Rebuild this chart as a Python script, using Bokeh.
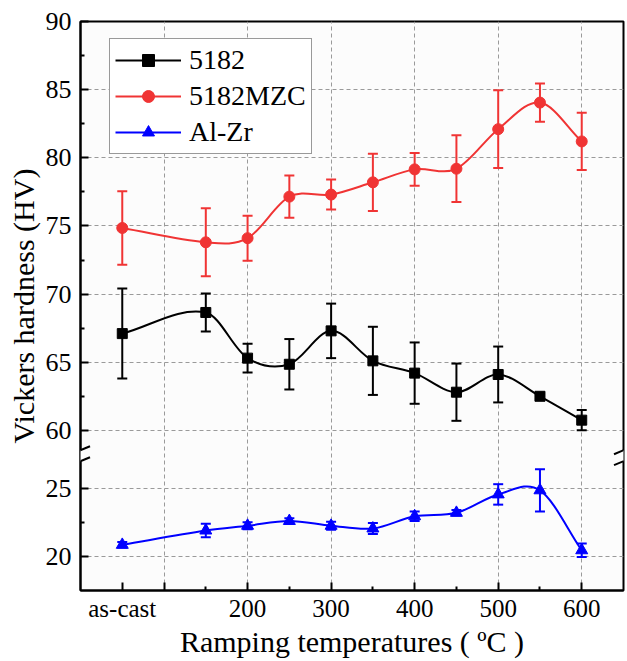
import numpy as np
from bokeh.plotting import figure
from bokeh.models import (FixedTicker, Whisker, TeeHead, ColumnDataSource,
                          Legend, LegendItem, Arrow)
from bokeh.embed import file_html
from bokeh.resources import INLINE

# ---------------- data ----------------
# temperature positions on the x axis (50 is where the "as-cast" state is placed)
temperatures = [50, 150, 200, 250, 300, 350, 400, 450, 500, 550, 600]
x_tick_labels = {50: "as-cast", 100: "", 200: "200", 300: "300", 400: "400", 500: "500", 600: "600"}

hv_5182 = [67.1, 68.65, 65.3, 64.85, 67.3, 65.1, 64.2, 62.8, 64.1, 62.5, 60.75]
err_5182 = [3.3, 1.4, 1.05, 1.85, 2.0, 2.5, 2.25, 2.1, 2.05, 0.2, 0.75]

hv_mzc = [74.85, 73.8, 74.1, 77.15, 77.3, 78.2, 79.15, 79.2, 82.1, 84.05, 81.2]
err_mzc = [2.7, 2.5, 1.65, 1.55, 1.1, 2.1, 1.2, 2.45, 2.85, 1.4, 2.1]

hv_alzr = [20.85, 21.9, 22.25, 22.6, 22.25, 22.05, 22.95, 23.2, 24.55, 24.85, 20.45]
err_alzr = [0.2, 0.5, 0.25, 0.2, 0.3, 0.4, 0.35, 0.2, 0.75, 1.55, 0.5]

upper_ticks = [60, 65, 70, 75, 80, 85, 90]
lower_ticks = [20, 25]
upper_minor = [62.5, 67.5, 72.5, 77.5, 82.5, 87.5]
lower_minor = [22.5]

# ---------------- broken-axis mapping ----------------
OFFSET = 30.75          # lower segment values are shifted up by this amount
Y0, Y1 = 17.5 + OFFSET, 90
X0, X1 = 0, 650
BREAK_Y = 58.14         # transformed y where the axis is broken
W, H = 626, 660
BL, BR, BT, BB = 80, 3, 21, 67
FRAME_W, FRAME_H = W - BL - BR, H - BT - BB

def lo(v):
    return [a + OFFSET for a in v]

FONT = "Liberation Serif"

p = figure(width=W, height=H, x_range=(X0, X1), y_range=(Y0, Y1),
           output_backend="svg", toolbar_location=None,
           min_border_left=BL, min_border_right=BR, min_border_top=BT, min_border_bottom=BB,
           background_fill_color="#fcfcfc", border_fill_color="#ffffff")

p.outline_line_color = "black"
p.outline_line_width = 2

# axes
xaxis = p.xaxis[0]
xaxis.ticker = FixedTicker(ticks=[50, 100, 200, 300, 400, 500, 600],
                           minor_ticks=[150, 250, 350, 450, 550])
xaxis.major_label_overrides = x_tick_labels
xaxis.axis_label = "Ramping temperatures ( \u00baC )"

yaxis = p.yaxis[0]
ytick_vals = lo(lower_ticks) + upper_ticks
yaxis.ticker = FixedTicker(ticks=ytick_vals, minor_ticks=lo(lower_minor) + upper_minor)
yaxis.major_label_overrides = {t: str(int(v)) for t, v in zip(ytick_vals, lower_ticks + upper_ticks)}
yaxis.axis_label = "Vickers hardness (HV)"

for ax in (xaxis, yaxis):
    ax.axis_line_width = 2
    ax.axis_line_color = "black"
    ax.major_tick_in = 8
    ax.major_tick_out = 0
    ax.minor_tick_in = 4
    ax.minor_tick_out = 0
    ax.major_tick_line_width = 2
    ax.minor_tick_line_width = 2
    ax.major_label_text_font = FONT
    ax.major_label_text_color = "black"
    ax.major_label_text_line_height = 1.0
    ax.axis_label_text_font = FONT
    ax.axis_label_text_font_size = "30px"
    ax.axis_label_text_font_style = "normal"
    ax.axis_label_text_color = "black"
    ax.axis_label_text_line_height = 1.0
xaxis.major_label_text_font_size = "25px"
yaxis.major_label_text_font_size = "26px"
xaxis.major_label_standoff = 4
xaxis.axis_label_standoff = 0
yaxis.major_label_standoff = 9
yaxis.axis_label_standoff = 3

# grids
p.xgrid.ticker = FixedTicker(ticks=[100, 200, 300, 400, 500, 600])
p.ygrid.ticker = FixedTicker(ticks=ytick_vals)
for g in (p.xgrid, p.ygrid):
    g.grid_line_color = "#9a9a9a"
    g.grid_line_dash = "4 3"
    g.grid_line_width = 1


def bezier_source(xs, ys):
    xs = np.asarray(xs, float)
    ys = np.asarray(ys, float)
    m = np.empty(len(xs))
    m[1:-1] = (ys[2:] - ys[:-2]) / (xs[2:] - xs[:-2])
    m[0] = (ys[1] - ys[0]) / (xs[1] - xs[0])
    m[-1] = (ys[-1] - ys[-2]) / (xs[-1] - xs[-2])
    dx = xs[1:] - xs[:-1]
    return ColumnDataSource(dict(
        x0=xs[:-1], y0=ys[:-1], x1=xs[1:], y1=ys[1:],
        cx0=xs[:-1] + dx / 3, cy0=ys[:-1] + m[:-1] * dx / 3,
        cx1=xs[1:] - dx / 3, cy1=ys[1:] - m[1:] * dx / 3))


series = [
    ("5182", hv_5182, err_5182, "#000000", "square", 10),
    ("5182MZC", hv_mzc, err_mzc, "#f03434", "circle", 11),
    ("Al-Zr", lo(hv_alzr), err_alzr, "#0000ff", "triangle", 12),
]

items = []
for name, ys, errs, color, marker, size in series:
    curve = p.bezier(x0="x0", y0="y0", x1="x1", y1="y1", cx0="cx0", cy0="cy0",
                     cx1="cx1", cy1="cy1", source=bezier_source(temperatures, ys),
                     line_color=color, line_width=2)
    src = ColumnDataSource(dict(x=temperatures, y=ys,
                                upper=[a + e for a, e in zip(ys, errs)],
                                lower=[a - e for a, e in zip(ys, errs)]))
    w = Whisker(base="x", upper="upper", lower="lower", source=src,
                line_color=color, line_width=2,
                upper_head=TeeHead(size=10, line_color=color, line_width=2),
                lower_head=TeeHead(size=10, line_color=color, line_width=2))
    p.add_layout(w)
    pts = p.scatter(x="x", y="y", source=src, marker=marker, size=size,
                    fill_color=color, line_color=color)
    items.append(LegendItem(label=name, renderers=[curve, pts]))

LEG_H = 112
legend = Legend(items=items, location=(29, FRAME_H - 24 - LEG_H), glyph_width=66, glyph_height=30,
                label_height=30, label_standoff=8, spacing=4, padding=5, margin=0,
                label_text_font=FONT, label_text_font_size="28px", label_text_line_height=1.0,
                label_text_color="black",
                border_line_color="#333333", border_line_width=1.5,
                background_fill_color="#ffffff", background_fill_alpha=1.0)
p.add_layout(legend)

# axis break marks
px_x = (X1 - X0) / FRAME_W
px_y = (Y1 - Y0) / FRAME_H
half_gap = 5.5 * px_y
for xb in (X0, X1):
    p.add_layout(Arrow(x_start=xb, y_start=BREAK_Y - half_gap, x_end=xb, y_end=BREAK_Y + half_gap,
                       start=None, end=None, line_color="#ffffff", line_width=6))
    for yc in (BREAK_Y - half_gap, BREAK_Y + half_gap):
        p.add_layout(Arrow(x_start=xb - 9.5 * px_x, y_start=yc - 4 * px_y,
                           x_end=xb + 9.5 * px_x, y_end=yc + 4 * px_y,
                           start=None, end=None, line_color="black", line_width=2))

open("out.html", "w").write(file_html(p, INLINE))
